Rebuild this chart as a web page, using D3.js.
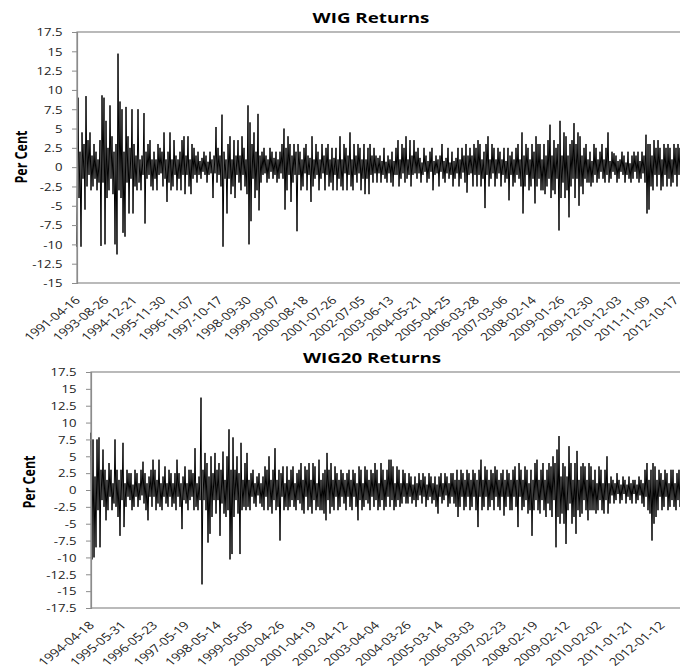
<!DOCTYPE html>
<html>
<head>
<meta charset="utf-8">
<script src="https://cdn.jsdelivr.net/npm/d3@7"></script>
<style>
  body { margin: 0; background: #fff; }
  svg { display: block; }
</style>
</head>
<body>
<svg id="chart" width="680" height="669"></svg>
<script>
// category labels (one every 250 observations)
const wigDates = ["1991-04-16", "1993-08-26", "1994-12-21", "1995-11-30", "1996-11-07", "1997-10-17",
  "1998-09-30", "1999-09-07", "2000-08-18", "2001-07-26", "2002-07-05", "2003-06-13", "2004-05-21",
  "2005-04-25", "2006-03-28", "2007-03-06", "2008-02-14", "2009-01-26", "2009-12-30", "2010-12-03",
  "2011-11-09", "2012-10-17"];
const wig20Dates = ["1994-04-18", "1995-05-31", "1996-05-23", "1997-05-19", "1998-05-14", "1999-05-05",
  "2000-04-26", "2001-04-19", "2002-04-12", "2003-04-04", "2004-03-26", "2005-03-14", "2006-03-03",
  "2007-02-23", "2008-02-19", "2009-02-12", "2010-02-02", "2011-01-21", "2012-01-12"];

const wigTicks = [17.5, 15, 12.5, 10, 7.5, 5, 2.5, 0, -2.5, -5, -7.5, -10, -12.5, -15];
const wig20Ticks = [17.5, 15, 12.5, 10, 7.5, 5, 2.5, 0, -2.5, -5, -7.5, -10, -12.5, -15, -17.5];

// returns (per cent)
const wigReturns = [
  -10.3, 9.0, -4, 2, -10.3, 4.5, -1.5, 3, -5.5, 9.2, -2.5, 3.5, -1, 4.5, -3, 1.5, -2.5, 3, -1.5, 2,
  -3, 1, -2, 3.5, -10.2, 9.3, -2, 9.0, -10, 6, -4, 2.5, -3, 8, -1.5, 4, -3.5, 2, -10, 3,
  -11.3, 14.7, -3, 8.5, -4, 7.5, -8.5, 2, -9, 7.8, -2, 4, -6, 2.5, -1.5, 7.5, -6, 3, -2.5, 1.5,
  -3, 7.5, -2, 1, -3, 1.5, -1, 7, -7.3, 2, -1.5, 3, -1, 3.5, -2.5, 1, -3, 2, -1.5, 1,
  -3, 3, -1, 2.5, -0.8, 2, -2.5, 4.5, -1.5, 1, -4.5, 2, -2, 4.5, -3, 1, -2.5, 3.5, -1, 1.5,
  -3, 1, -1.5, 2, -3, 3.5, -1, 4, -3.5, 1.5, -1, 4, -2.5, 1, -3.5, 3, -1.5, 2.5, -1, 1.5,
  -2, 2, -1, 0.8, -1.5, 1.2, -0.6, 2, -1, 1.5, -2, 0.7, -1, 2, -0.8, 1, -4, 1.5, -0.8, 5.2,
  -2, 2.5, -1, 1.5, -2.5, 6.8, -10.3, 2, -1.5, 1, -6, 3, -1.5, 4, -3.5, 1, -2.5, 3.5, -4, 1.5,
  -1, 3.5, -2, 1.5, -3, 4, -1, 2.5, -2.5, 1, -3.5, 8, -10, 5.8, -7, 3, -1.5, 4.5, -4, 2,
  -3, 6.9, -5.6, 1.5, -2, 2, -1, 2.5, -0.8, 1.5, -2, 1, -1.5, 2.5, -0.6, 2, -1.5, 1.2, -1, 2,
  -2, 1, -1.5, 2, -0.8, 3, -1.5, 5, -5.5, 2.5, -3, 4, -1, 3, -4.5, 1.5, -2, 3, -1, 2,
  -8.3, 3, -1, 2, -3, 1, -2.5, 2.5, -0.8, 3, -3, 1.5, -1, 1.2, -4.5, 4, -2.5, 1, -1.5, 3,
  -1, 2, -3, 1, -1.5, 3, -0.8, 1.5, -3, 2.5, -1, 3, -2.5, 1, -2, 2.5, -3, 1.2, -1, 2.5,
  -3, 1, -1.5, 4, -2.5, 1, -3, 3, -0.8, 2.5, -3, 1.5, -1, 4.5, -2.5, 1, -3, 3, -1, 1.5,
  -2, 3, -0.8, 2.5, -3, 1, -1.5, 3, -3.5, 1, -1.5, 2.5, -3.5, 3, -1, 1.5, -2, 2.5, -0.8, 1.5,
  -2, 1.2, -0.8, 1.5, -2, 0.8, -1, 2.5, -1.5, 0.7, -2, 1.5, -0.8, 1, -2, 2, -2.5, 0.8, -1, 2.5,
  -1, 3.5, -2.5, 1, -1.5, 3, -0.8, 2.5, -2, 4, -1.5, 1, -1, 3.5, -2.5, 1.5, -1, 3.5, -0.8, 2,
  -1.5, 2.5, -0.8, 1.2, -2, 0.6, -1, 2.5, -0.6, 1.5, -2, 0.8, -1.5, 2, -0.6, 2.5, -3, 0.8, -1, 1.5,
  -0.8, 1, -2.5, 1.5, -0.6, 3, -1.5, 0.8, -2, 1.2, -0.8, 2.5, -1.5, 0.6, -1, 2, -2.5, 0.8, -1.5, 1.2,
  -0.8, 2.5, -2.5, 1, -1.5, 2.5, -0.7, 1.5, -2, 3, -3.3, 1.5, -1, 2.5, -0.8, 1.5, -2.5, 3, -1, 2.5,
  -2.5, 3.5, -1, 3, -2.5, 1, -1.5, 2, -5.3, 3, -1, 4, -2.5, 1, -1.5, 3, -0.8, 2.5, -2.5, 1,
  -1.5, 2.5, -0.8, 2, -2.5, 1, -1, 2.5, -2, 0.8, -1.5, 2.5, -4.3, 1.5, -1, 2, -2.5, 1, -2, 2.5,
  -1, 3, -1.5, 1, -2.5, 4.5, -6, 1.5, -2.5, 3, -1, 2.5, -3, 1, -2.5, 3, -1.5, 2, -4.7, 4,
  -2.5, 3, -1.5, 3, -3, 1, -3, 3, -3.5, 1.5, -2.5, 3.5, -1.5, 5.5, -4, 1.5, -3, 3.5, -3.5, 2.5,
  -1.5, 3, -8.2, 6, -4, 1.5, -2, 4.5, -4, 4, -3, 1.5, -6.5, 3, -2.5, 3.5, -1.5, 5.7, -4, 3,
  -1.5, 4.5, -5, 4, -2.5, 1.5, -3.5, 2.5, -1.5, 3, -2, 1, -2, 2, -2.5, 0.8, -2, 3, -1, 2.5,
  -2, 1, -1.5, 2, -0.6, 3, -1.5, 1, -2, 2.5, -1, 4.5, -2, 0.8, -1.5, 2, -0.6, 1.8, -1, 1.5,
  -2, 0.8, -1.5, 1, -0.6, 2, -1, 1.5, -2, 0.6, -1, 2, -1.5, 0.5, -2, 1.5, -1.5, 2, -0.6, 1.5,
  -1.5, 2, -2, 0.8, -1.5, 2, -0.8, 1.5, -2, 4.2, -6, 3, -5.5, 3, -2.5, 1.5, -3, 3.5, -1, 2.5,
  -2.5, 3.5, -1, 2.5, -3, 1, -2.5, 3, -1, 2.5, -2.5, 3, -1.5, 2.5, -2.5, 1, -2, 3, -1, 2.5,
  -2.5, 3, -1, 2.5, -2.5, 1, -2, 2.5, -1.5, 2, -2, 2.5, -1, 2, -2.5, 1, -2, 2.5, -1.5, 2
];
const wig20Returns = [
  8.5, -10.3, 7.5, -10, 2, -8.5, 7.5, -3, 7.8, -8.5, 3, -1.5, 6, -2.5, 3, -4.5, 1.5, -3, 4, -1,
  3, -3, 1, -2, 7.5, -2.5, 3, -4, 1.5, -6.8, 3, -1.5, 7, -5.5, 1, -2.5, 3, -1, 2.5, -1.5,
  2.5, -3, 0.8, -2.5, 3, -1, 2.5, -2.5, 1, -1.5, 3, -0.8, 4.2, -2, 2.5, -3, 1, -4.5, 2, -1,
  3, -2.5, 4.5, -1, 3, -3, 1.5, -2, 4.5, -2.5, 1, -3, 2, -1, 3.5, -2, 1, -2.5, 3, -1,
  2.5, -2.5, 1, -2, 2.5, -3, 4.5, -1, 2.5, -2.5, 1, -5.8, 2, -1.5, 3.5, -2, 1, -3, 3, -1.5,
  3, -1, 2.5, -3, 6.2, -2.5, 1, -3, 2, -1.5, 13.7, -14, 3, -1.5, 5.5, -3, 4, -7.8, 2, -6.5,
  5, -4, 2.5, -1.5, 5.5, -3.5, 3, -1.5, 4, -6.8, 3, -2, 5.7, -3.5, 1.5, -4, 5, -3, 9, -10.3,
  3, -9.5, 7.8, -4, 3, -1.5, 5, -3.5, 2.5, -9.5, 7, -3, 1.5, -2.5, 4, -3, 5.5, -2.5, 1.5, -3,
  2.5, -1, 3, -2, 1, -2.5, 2, -0.8, 2.5, -2, 1, -2.5, 2, -3, 3.5, -1, 3, -3, 5, -2.5,
  1.5, -3.5, 3, -1.5, 6.2, -3, 1.5, -2.5, 3, -7.5, 2.5, -1, 3.5, -3, 1, -2.5, 3.5, -3, 1.5, -2.5,
  3, -1.5, 3.5, -2.5, 1, -3, 2.5, -1.5, 3, -2, 4, -3, 1.5, -3.5, 3.5, -1, 3, -3, 4, -2.5,
  1.5, -3.5, 4, -1.5, 3.5, -3, 1, -2.5, 4.5, -3, 1.5, -3, 2.5, -3.5, 3, -4.5, 5.5, -1.5, 3, -3.5,
  4, -2.5, 1.5, -3, 3.5, -1, 2.5, -3, 1.5, -2.5, 3, -1, 2.5, -2, 1.5, -3, 2.5, -1, 3, -2.5,
  1.5, -3, 3, -1, 2.5, -2.5, 1, -4.5, 3.5, -1.5, 3, -3, 1, -2.5, 3.5, -1.5, 3, -2, 1.5, -3,
  3, -1, 2.5, -2.5, 4, -1.5, 3, -3, 1, -2.5, 4, -1.5, 3, -3, 1.5, -2.5, 3, -1, 4.5, -2.5,
  4.5, -1.5, 3.5, -3, 1, -2.5, 3.5, -1.5, 3, -2.5, 1, -2, 3, -1, 2.5, -2, 1, -2, 2.5, -1,
  2, -2, 0.8, -1.5, 2, -2.5, 1, -1.5, 2.5, -0.8, 1.5, -2, 2.5, -1, 2, -2.5, 0.8, -1.5, 2.5, -1,
  2, -2, 1, -1.5, 2, -2.5, 0.8, -3.5, 2, -1, 2.5, -2, 1, -1.5, 2.5, -0.8, 2, -2.5, 1, -2,
  2.5, -1, 2.5, -2, 1.5, -2.5, 3, -4, 1.5, -2.5, 3, -1, 2.5, -3, 1.5, -2.5, 3, -1, 2.5, -3,
  1.5, -2.5, 3, -1, 2.5, -3, 1.5, -5.5, 3, -1, 4.5, -3, 1.5, -2.5, 3.5, -1, 3, -3, 1.5, -2.5,
  3, -1.5, 2.5, -3, 3.5, -1, 3, -2.5, 1.5, -3, 2.5, -1, 3, -3.8, 1.5, -2.5, 3, -1, 2.5, -3,
  1.5, -3, 3, -1, 3.5, -2.5, 1.5, -5.5, 4, -1, 3, -3, 1.5, -2.5, 3.5, -1.5, 3, -3.5, 1, -3,
  3, -6.8, 1.5, -3, 4, -1.5, 4.5, -3, 1.5, -3.5, 3, -1.5, 4, -3, 1.5, -4, 3, -2, 4, -3,
  3.5, -4, 5, -1.5, 4, -8.5, 6, -4, 8, -5, 2, -3.5, 4, -5, 3.5, -8, 2, -3, 6.5, -2,
  4, -5, 1.5, -4, 4, -6.5, 5.8, -3, 1.5, -4, 3.5, -3.5, 4, -1.5, 3.5, -3, 1.5, -4.5, 4, -3,
  3.5, -3, 1.5, -3, 3, -3.5, 1, -3, 3.5, -1.5, 3, -3, 1, -3.5, 3, -1.5, 5, -3.5, 1, -2,
  2, -0.8, 1.5, -2, 1, -1.5, 2.5, -0.6, 1.5, -2, 0.8, -1.5, 2, -0.6, 1.5, -2, 0.8, -1, 2, -1.5,
  1, -2, 1.5, -0.6, 1.5, -2, 0.8, -1.5, 2, -0.8, 1.5, -2, 1, -2.5, 3, -1, 4, -3, 1.5, -3.5,
  3, -7.5, 4, -5, 3.5, -4, 1.5, -3, 3, -1, 2.5, -3, 1.5, -2.5, 3, -1, 2.5, -3, 1, -2.5,
  3, -1.5, 3, -2.5, 1, -3, 2.5, -1.5, 3, -2.5, 1, -3, 2.5, -1, 3, -2.5, 1.5, -3, 2.5, -1
];

const svg = d3.select("#chart");
const sx = 1.25;          // the picture is stretched sideways; text follows it
const axisColor = "#8c8c8c";
const textColor = "#222";
const fontFamily = "'Open Sans', sans-serif";

function drawPanel(p) {
  // one sample per pixel; label every 250 observations
  const right = p.left + p.values.length - 1;
  const nObs = (right - p.left) / p.labelGap * p.step;
  const x = d3.scaleLinear().domain([0, nObs]).range([p.left, right]);
  const y = d3.scaleLinear().domain([p.ticks[p.ticks.length - 1], p.ticks[0]]).range([p.bottom, p.top]);
  const g = svg.append("g");

  g.append("rect")
    .attr("x", p.left).attr("y", p.top)
    .attr("width", right - p.left + 20).attr("height", p.bottom - p.top)
    .attr("fill", "none").attr("stroke", axisColor).attr("stroke-width", 1.2);

  const line = d3.line()
    .x((d, i) => x(i * nObs / (p.values.length - 1)))
    .y(d => y(d));
  g.append("path")
    .datum(p.values)
    .attr("d", line)
    .attr("fill", "none")
    .attr("stroke", "#000")
    .attr("stroke-width", 1);

  // y axis
  const ya = g.append("g").attr("transform", `translate(${p.left},0)`)
    .call(d3.axisLeft(y).tickValues(p.ticks).tickSize(5));
  ya.select(".domain").attr("stroke", axisColor).attr("stroke-width", 1.2);
  ya.selectAll(".tick line").attr("stroke", axisColor);
  ya.selectAll(".tick text").remove();
  ya.selectAll(".tick").append("g")
    .attr("transform", `translate(-14.5,0) scale(${sx},1)`)
    .append("text")
    .attr("text-anchor", "end")
    .attr("dy", "0.36em")
    .attr("fill", textColor)
    .style("font-family", fontFamily)
    .style("font-size", "10.5px")
    .text(d => String(d));

  // category labels
  g.selectAll(".xlab")
    .data(p.dates)
    .join("g")
    .attr("class", "xlab")
    .attr("transform", (d, i) => `translate(${x(i * p.step) + 4},${p.bottom + 18}) scale(${sx},1) rotate(-45)`)
    .append("text")
    .attr("text-anchor", "end")
    .attr("fill", textColor)
    .style("font-family", fontFamily)
    .style("font-size", "11px")
    .text(d => d);

  // title
  svg.append("g")
    .attr("transform", `translate(${p.titleX},${p.titleY}) scale(${sx},1)`)
    .append("text")
    .attr("text-anchor", "middle")
    .attr("fill", "#000")
    .style("font-family", fontFamily)
    .style("font-weight", "bold")
    .style("font-size", "15px")
    .text(p.title);

  // y label
  svg.append("g")
    .attr("transform", `translate(${p.ylabX},${p.ylabY}) scale(${sx},1) rotate(-90)`)
    .append("text")
    .attr("text-anchor", "middle")
    .attr("dy", "0.36em")
    .attr("fill", "#000")
    .style("font-family", fontFamily)
    .style("font-weight", "bold")
    .style("font-size", "12.5px")
    .text("Per Cent");
}

drawPanel({
  title: "WIG Returns", values: wigReturns, dates: wigDates, ticks: wigTicks,
  left: 77, top: 32, bottom: 283, step: 250, labelGap: 28.5,
  titleX: 371, titleY: 23, ylabX: 21, ylabY: 157
});
drawPanel({
  title: "WIG20 Returns", values: wig20Returns, dates: wig20Dates, ticks: wig20Ticks,
  left: 91, top: 372, bottom: 608, step: 250, labelGap: 31.7,
  titleX: 372, titleY: 363, ylabX: 29, ylabY: 482
});
</script>
</body>
</html>
